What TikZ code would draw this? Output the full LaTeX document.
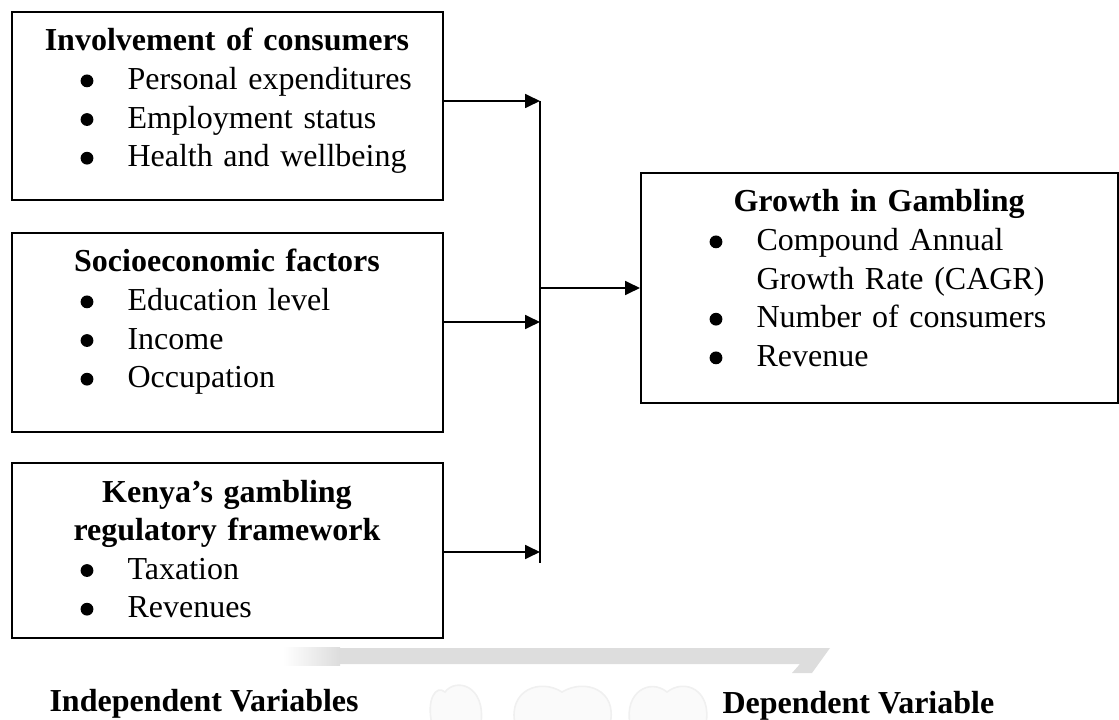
\documentclass[tikz,border=0pt]{standalone}
\usepackage{fontspec}
\setmainfont{Liberation Serif}
\usetikzlibrary{arrows.meta}

\newcommand{\blt}{\tikz[baseline=-3.3pt]\fill (0,0) circle [radius=2.4pt];}
\newcommand{\ttl}[1]{\makebox[\linewidth]{\bfseries #1}}
\newcommand{\itm}[1]{\hspace*{25.9pt}\makebox[17.6pt][l]{\blt}#1}
\newcommand{\itmcont}[1]{\hspace*{43.5pt}#1}

\begin{document}
\begin{tikzpicture}[x=0.375pt,y=-0.375pt,
    box/.style={draw,line width=0.75pt,anchor=north west,minimum width=161.6pt,inner sep=0pt},
    txt/.style={anchor=base west,inner sep=0pt,text width=161.6pt,align=left,
      font=\fontsize{12}{14.5}\selectfont},
    conn/.style={line width=0.75pt,-{Triangle[length=5.6pt,width=5.2pt]}},
    lbl/.style={anchor=base west,inner sep=0pt,font=\fontsize{12}{14.5}\selectfont\bfseries},
    wm/.style={draw=gray!12,fill=gray!4,line width=0.6pt}]
  \useasboundingbox (0,0) rectangle (1119,720);
  % faint watermark behind the labels
  \begin{scope}
    \clip (0,0) rectangle (1119,720);
    \fill[gray!27] (285,648) -- (830,648) -- (812,673) -- (792,673) -- (800,664) -- (285,664) -- cycle;
    \shade[left color=white,right color=gray!27] (283,647) rectangle (340,665);
    \draw[wm] (432,724) .. controls (426,700) and (436,684) .. (445,692) .. controls (455,678) and (486,684) .. (481,724);
    \draw[wm] (515,724) .. controls (508,690) and (540,678) .. (562,692) .. controls (585,678) and (618,690) .. (610,724);
    \draw[wm] (630,724) .. controls (624,692) and (650,678) .. (667,692) .. controls (685,678) and (712,690) .. (706,724);
  \end{scope}
  % boxes
  \node[box,minimum height=70.5pt] (inv) at (11,11) {};
  \node[box,minimum height=74.6pt] (soc) at (11,232) {};
  \node[box,minimum height=65.6pt] (reg) at (11,462) {};
  \node[box,minimum width=178.9pt,minimum height=86.25pt] (grw) at (640,172) {};
  % box texts
  \node[txt] (invtxt) at ([yshift=-15pt]inv.north west)
    {\ttl{Involvement of consumers}\\ \itm{Personal expenditures}\\ \itm{Employment status}\\ \itm{Health and wellbeing}};
  \node[txt] (soctxt) at ([yshift=-15pt]soc.north west)
    {\ttl{Socioeconomic factors}\\ \itm{Education level}\\ \itm{Income}\\ \itm{Occupation}};
  \node[txt] (regtxt) at ([yshift=-15pt]reg.north west)
    {\ttl{Kenya’s gambling}\\ \ttl{regulatory framework}\\ \itm{Taxation}\\ \itm{Revenues}};
  \node[txt,text width=178.9pt] (grwtxt) at ([yshift=-15pt]grw.north west)
    {\ttl{Growth in Gambling}\\ \itm{Compound Annual}\\ \itmcont{Growth Rate (CAGR)}\\ \itm{Number of consumers}\\ \itm{Revenue}};
  % connectors
  \coordinate (bustop) at (540,101);
  \coordinate (busbot) at (540,563);
  \coordinate (j2) at (540,322);
  \coordinate (j3) at (540,552);
  \draw[line width=0.6pt] (bustop) -- (busbot);
  \draw[conn] (inv.east |- bustop) -- (bustop);
  \draw[conn] (soc.east |- j2) -- (j2);
  \draw[conn] (reg.east |- j3) -- (j3);
  \draw[conn] (grw.west -| bustop) -- (grw.west);
  % labels
  \node[lbl] (indep) at (49,711) {Independent Variables};
  \node[lbl] (dep) at (722,713) {Dependent Variable};
\end{tikzpicture}
\end{document}
